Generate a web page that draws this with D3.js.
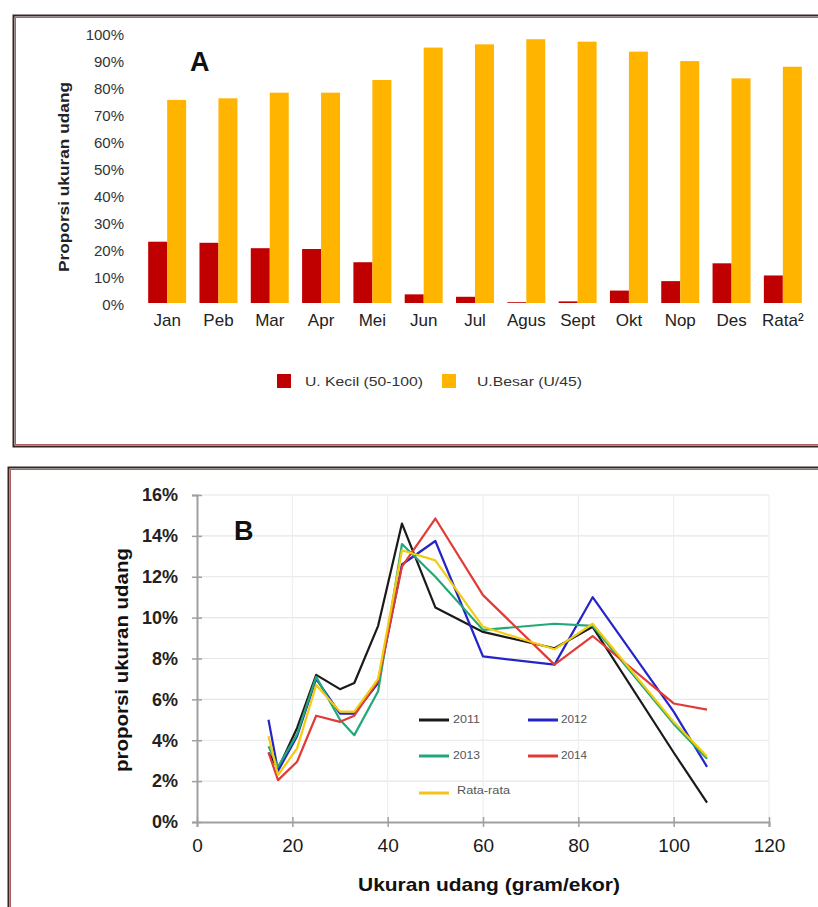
<!DOCTYPE html>
<html><head><meta charset="utf-8">
<script src="https://cdn.jsdelivr.net/npm/d3@7"></script>
<style>
html,body{margin:0;padding:0;background:#fff;}
svg{display:block;font-family:"Liberation Sans",Arial,sans-serif;}
</style></head>
<body>
<svg id="c" width="818" height="907"></svg>
<script>
// ---------- Panel A data ----------
const months = ["Jan","Peb","Mar","Apr","Mei","Jun","Jul","Agus","Sept","Okt","Nop","Des","Rata\u00B2"];
const kecil  = [22.7, 22.3, 20.3, 20.0, 15.1, 3.2, 2.3, 0.3, 0.6, 4.6, 8.1, 14.7, 10.2];
const besar  = [75.2, 75.8, 77.9, 77.9, 82.6, 94.6, 95.8, 97.7, 96.8, 93.1, 89.6, 83.2, 87.5];
const seriesA = ["U. Kecil (50-100)", "U.Besar (U/45)"];
const pctTicksA = [0,10,20,30,40,50,60,70,80,90,100];

// ---------- Panel B data ----------
const sizes   = [15, 17, 21, 25, 30, 33, 38, 43, 50, 60, 75, 83, 100, 107];
const y2011   = [3.4, 2.6, 4.6, 7.2, 6.5, 6.8, 9.6, 14.6, 10.5, 9.3, 8.5, 9.55, 3.4, 0.95];
const y2012   = [5.0, 2.5, 4.2, 7.0, 5.3, 5.3, 6.8, 12.6, 13.75, 8.1, 7.7, 11.0, 5.4, 2.7];
const y2013   = [3.7, 2.7, 4.3, 7.1, 5.0, 4.25, 6.4, 13.6, 12.0, 9.4, 9.7, 9.6, 4.8, 3.1];
const y2014   = [3.4, 2.05, 2.95, 5.2, 4.9, 5.2, 6.9, 12.5, 14.85, 11.1, 7.7, 9.1, 5.8, 5.5];
const yRata   = [4.2, 2.3, 3.6, 6.7, 5.4, 5.4, 7.0, 13.3, 12.8, 9.55, 8.45, 9.7, 4.9, 3.2];
const seriesB = ["2011", "2012", "2013", "2014", "Rata-rata"];
const xTicksB = [0, 20, 40, 60, 80, 100, 120];
const yTicksB = [0, 2, 4, 6, 8, 10, 12, 14, 16];

const svg = d3.select("#c");
const FONT = '"Liberation Sans",Arial,sans-serif';
svg.append("rect").attr("width",818).attr("height",907).attr("fill","#fff");

// ---------- Panel frames ----------
function frame(x,y,w,h){
  svg.append("rect").attr("x",x).attr("y",y).attr("width",w).attr("height",h)
    .attr("fill","none").attr("stroke","#3a2424").attr("stroke-width",2);
  svg.append("rect").attr("x",x+2).attr("y",y+2).attr("width",w-4).attr("height",h-4)
    .attr("fill","none").attr("stroke","#b06060").attr("stroke-width",1);
}
frame(13.5,15.5,900,431);
frame(8.5,467.5,900,500);

// ================= Panel A =================
const gA = svg.append("g");
const xA = d3.scaleBand().domain(months).range([141.5,808.5]).paddingInner(0.26).paddingOuter(0.13);
const xSub = d3.scaleBand().domain(seriesA).range([0, xA.bandwidth()]);
const yA = d3.scaleLinear().domain([0,100]).range([303,33]);
const colA = d3.scaleOrdinal().domain(seriesA).range(["#c00000","#ffb400"]);

const rowsA = months.map((m,i)=>({m, vals:[{k:seriesA[0],v:kecil[i]},{k:seriesA[1],v:besar[i]}]}));
gA.selectAll("g.grp").data(rowsA).join("g").attr("class","grp")
  .attr("transform",d=>`translate(${xA(d.m)},0)`)
  .selectAll("rect").data(d=>d.vals).join("rect")
  .attr("x",d=>xSub(d.k)).attr("width",xSub.bandwidth())
  .attr("y",d=>yA(d.v)).attr("height",d=>yA(0)-yA(d.v))
  .attr("fill",d=>colA(d.k));

const axYA = gA.append("g").attr("transform","translate(127,0)")
  .call(d3.axisLeft(yA).tickValues(pctTicksA).tickFormat(d=>d+"%").tickSize(0).tickPadding(3));
axYA.select(".domain").remove();
axYA.selectAll("text").attr("font-size",15).attr("font-family",FONT).attr("fill","#333").attr("dy","0.45em");

const axXA = gA.append("g").attr("transform","translate(0,303)")
  .call(d3.axisBottom(xA).tickSize(0).tickPadding(11));
axXA.select(".domain").remove();
axXA.selectAll("text").attr("font-size",17).attr("font-family",FONT).attr("fill","#222");

gA.append("text").attr("transform","translate(69,177) rotate(-90)")
  .attr("text-anchor","middle").attr("font-size",14).attr("font-weight","bold")
  .attr("font-family",FONT).attr("fill","#222").attr("textLength",190).attr("lengthAdjust","spacingAndGlyphs")
  .text("Proporsi ukuran udang");

gA.append("text").attr("x",190).attr("y",71).attr("font-size",27).attr("font-weight","bold")
  .attr("font-family",FONT).attr("fill","#111").text("A");

// legend A
const legA = [{k:seriesA[0],x:277,tx:305,w:118},{k:seriesA[1],x:442,tx:477,w:105}];
const lgA = gA.selectAll("g.lgA").data(legA).join("g").attr("class","lgA");
lgA.append("rect").attr("x",d=>d.x).attr("y",374).attr("width",14).attr("height",14).attr("fill",d=>colA(d.k));
lgA.append("text").attr("x",d=>d.tx).attr("y",386).attr("font-size",13).attr("font-family",FONT)
  .attr("fill","#333").attr("textLength",d=>d.w).attr("lengthAdjust","spacingAndGlyphs").text(d=>d.k);

// ================= Panel B =================
const gB = svg.append("g");
const xB = d3.scaleLinear().domain([0,120]).range([197,769]);
const yB = d3.scaleLinear().domain([0,16]).range([822,495]);

// gridlines
gB.selectAll("line.hg").data(yTicksB.filter(d=>d>0)).join("line").attr("class","hg")
  .attr("x1",xB(0)).attr("x2",xB(120)).attr("y1",d=>yB(d)).attr("y2",d=>yB(d))
  .attr("stroke","#e6e6e6").attr("stroke-width",1.2);
gB.selectAll("line.vg").data(xTicksB.filter(d=>d>0)).join("line").attr("class","vg")
  .attr("y1",yB(0)).attr("y2",yB(16)).attr("x1",d=>xB(d)).attr("x2",d=>xB(d))
  .attr("stroke","#eeeeee").attr("stroke-width",1.2);

// axes
const axYB = gB.append("g").attr("transform",`translate(${xB(0)},0)`)
  .call(d3.axisLeft(yB).tickValues(yTicksB).tickFormat(d=>d+"%").tickSize(5).tickPadding(14));
axYB.select(".domain").attr("stroke","#a0a0a0").attr("stroke-width",2);
axYB.selectAll(".tick line").attr("x1",5).attr("stroke","#a0a0a0").attr("stroke-width",1.5);
axYB.selectAll("text").attr("font-size",18).attr("font-weight","bold").attr("font-family",FONT).attr("fill","#222");

const axXB = gB.append("g").attr("transform",`translate(0,${yB(0)})`)
  .call(d3.axisBottom(xB).tickValues(xTicksB).tickSize(5).tickPadding(11.5));
axXB.select(".domain").attr("stroke","#a0a0a0").attr("stroke-width",2);
axXB.selectAll(".tick line").attr("y1",-5).attr("stroke","#a0a0a0").attr("stroke-width",1.5);
axXB.selectAll("text").attr("font-size",19).attr("font-family",FONT).attr("fill","#1a1a1a");

gB.append("text").attr("transform","translate(128,660) rotate(-90)")
  .attr("text-anchor","middle").attr("font-size",19).attr("font-weight","bold")
  .attr("font-family",FONT).attr("fill","#111").attr("textLength",224).attr("lengthAdjust","spacingAndGlyphs")
  .text("proporsi ukuran udang");
gB.append("text").attr("x",489).attr("y",891).attr("text-anchor","middle")
  .attr("font-size",19).attr("font-weight","bold").attr("font-family",FONT).attr("fill","#111")
  .attr("textLength",262).attr("lengthAdjust","spacingAndGlyphs").text("Ukuran udang (gram/ekor)");

gB.append("text").attr("x",234).attr("y",540).attr("font-size",27).attr("font-weight","bold")
  .attr("font-family",FONT).attr("fill","#111").text("B");

// lines
const colB = d3.scaleOrdinal().domain(seriesB).range(["#1a1a1a","#2424c8","#22a878","#e23a36","#f2cc10"]);
const seriesData = [y2011,y2012,y2013,y2014,yRata].map((arr,i)=>({k:seriesB[i], pts:arr.map((v,j)=>[sizes[j],v])}));
const line = d3.line().x(d=>xB(d[0])).y(d=>yB(d[1]));
gB.selectAll("path.ser").data(seriesData).join("path").attr("class","ser")
  .attr("d",d=>line(d.pts)).attr("fill","none").attr("stroke",d=>colB(d.k))
  .attr("stroke-width",2.2).attr("stroke-linejoin","round");

// legend B
const legB = [
  {k:seriesB[0],x:419,y:720,tx:453,w:27},
  {k:seriesB[1],x:528,y:720,tx:561,w:26},
  {k:seriesB[2],x:419,y:756,tx:453,w:27},
  {k:seriesB[3],x:528,y:756,tx:561,w:26},
  {k:seriesB[4],x:419,y:793,tx:457,w:53,ty:791}
];
const lgB = gB.selectAll("g.lgB").data(legB).join("g").attr("class","lgB");
lgB.append("line").attr("x1",d=>d.x).attr("x2",d=>d.x+30).attr("y1",d=>d.y).attr("y2",d=>d.y)
  .attr("stroke",d=>d.k==="Rata-rata"?"#f5c21a":colB(d.k)).attr("stroke-width",3);
lgB.append("text").attr("x",d=>d.tx).attr("y",d=>(d.ty||d.y)+3).attr("font-size",10.5).attr("font-family",FONT)
  .attr("fill","#555").attr("textLength",d=>d.w).attr("lengthAdjust","spacingAndGlyphs").text(d=>d.k);
</script>
</body></html>
